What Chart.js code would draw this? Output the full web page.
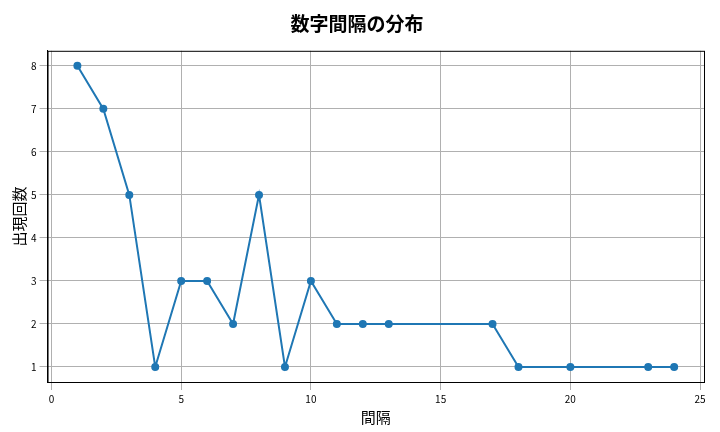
<!DOCTYPE html>
<html><head><meta charset="utf-8">
<script src="https://cdn.jsdelivr.net/npm/chart.js@4"></script>
<style>body{margin:0;background:#fff}#w{width:720px;height:432px}</style>
</head><body><div id="w"><canvas id="c"></canvas></div>
<script>
const gaps = [1,2,3,4,5,6,7,8,9,10,11,12,13,17,18,20,23,24];
const counts = [8,7,5,1,3,3,2,5,1,3,2,2,2,2,1,1,1,1];
const xTicks = [0,5,10,15,20,25];
const yTicks = [1,2,3,4,5,6,7,8];
const F = "'Noto Sans CJK JP', sans-serif";
const frame = { id:'frame', afterDraw(ch){ const a=ch.chartArea, c=ch.ctx; c.save(); c.strokeStyle='#000'; c.lineWidth=1; c.strokeRect(a.left+0.5,a.top+0.5,a.right-a.left,a.bottom-a.top); c.restore(); } };
new Chart(document.getElementById('c'), {
  type: 'line',
  data: { datasets: [{ data: gaps.map((g,i)=>({x:g,y:counts[i]})), borderColor:'#1f77b4', backgroundColor:'#1f77b4', borderWidth:2, pointRadius:3, pointHoverRadius:3, tension:0 }] },
  options: {
    responsive:true, maintainAspectRatio:false, animation:false,
    layout:{padding:{left:10,right:16,top:10,bottom:6}},
    plugins:{ legend:{display:false}, tooltip:{enabled:false},
      title:{display:true, text:'数字間隔の分布', font:{family:F,size:19,weight:'bold'}, color:'#000', padding:{top:2,bottom:16}} },
    scales:{
      x:{ type:'linear', min:-0.15, max:25.15, afterBuildTicks:a=>{a.ticks=xTicks.map(v=>({value:v}));},
        ticks:{font:{family:F,size:10},color:'#000'}, grid:{color:'#b0b0b0'}, border:{color:'#000'},
        title:{display:true,text:'間隔',font:{family:F,size:15},color:'#000',padding:0} },
      y:{ min:0.65, max:8.35, afterBuildTicks:a=>{a.ticks=yTicks.map(v=>({value:v}));},
        ticks:{font:{family:F,size:10},color:'#000'}, grid:{color:'#b0b0b0'}, border:{color:'#000'},
        title:{display:true,text:'出現回数',font:{family:F,size:15},color:'#000',padding:0} }
    }
  },
  plugins:[frame]
});
</script></body></html>
